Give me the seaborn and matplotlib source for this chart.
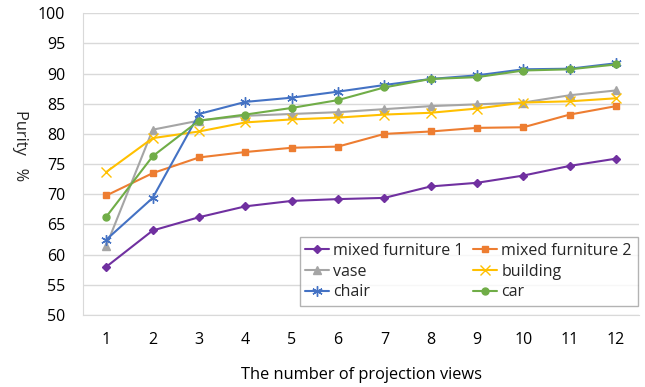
import pandas as pd
import matplotlib.pyplot as plt
import seaborn as sns

views = list(range(1, 13))

mixed_furniture_1 = [58.0, 64.0, 66.2, 68.0, 68.9, 69.2, 69.4, 71.3, 71.9, 73.1, 74.7, 75.9]
mixed_furniture_2 = [69.8, 73.5, 76.1, 77.0, 77.7, 77.9, 80.0, 80.4, 81.0, 81.1, 83.2, 84.6]
vase = [61.5, 80.7, 82.2, 83.0, 83.3, 83.6, 84.1, 84.6, 84.9, 85.2, 86.4, 87.2]
building = [73.7, 79.3, 80.4, 81.9, 82.4, 82.7, 83.2, 83.5, 84.2, 85.2, 85.4, 85.9]
chair = [62.5, 69.4, 83.3, 85.3, 86.0, 87.0, 88.1, 89.1, 89.7, 90.7, 90.8, 91.7]
car = [66.3, 76.3, 82.2, 83.2, 84.3, 85.6, 87.7, 89.1, 89.4, 90.5, 90.7, 91.5]

series_names = ["mixed furniture 1", "mixed furniture 2", "vase", "building", "chair", "car"]
y_ticks = list(range(50, 101, 5))


def build_frame():
    '''Long-form table of all series.'''
    values = [mixed_furniture_1, mixed_furniture_2, vase, building, chair, car]
    rows = []
    for name, vals in zip(series_names, values):
        for v, p in zip(views, vals):
            rows.append({"views": v, "purity": p, "series": name})
    return pd.DataFrame(rows)


def main():
    sns.set_style("white")
    plt.rcParams['font.family'] = ['Open Sans', 'DejaVu Sans']

    df = build_frame()
    colors = ["#7030A0", "#ED7D31", "#A5A5A5", "#FFC000", "#4472C4", "#70AD47"]
    markers = ["D", "s", "^", "x", (6, 2, 0), "o"]
    sizes = [4, 5, 5.5, 6.5, 7.5, 5]

    fig = plt.figure(figsize=(6.45, 3.87), dpi=100)
    ax = fig.add_axes([0.129, 0.186, 0.862, 0.780])

    handles = {}
    for name, c, m, s in zip(series_names, colors, markers, sizes):
        sub = df[df["series"] == name]
        sns.lineplot(data=sub, x="views", y="purity", ax=ax, color=c, marker=m,
                     markersize=s, markeredgecolor=c, markeredgewidth=1.0,
                     linewidth=1.5, label=name, legend=False)
        handles[name] = ax.lines[-1]

    ax.set_xlim(0.5, 12.5)
    ax.set_ylim(50, 100)
    ax.set_xticks(views)
    ax.set_yticks(y_ticks)
    ax.tick_params(axis="y", length=0, labelsize=11.5, colors="#000000", pad=13)
    ax.tick_params(axis="x", length=0, labelsize=11.5, colors="#000000", pad=12)
    ax.grid(axis="y", color="#D9D9D9", linewidth=1)
    ax.set_axisbelow(True)
    for side in ["top", "right"]:
        ax.spines[side].set_visible(False)
    for side in ["left", "bottom"]:
        ax.spines[side].set_color("#D9D9D9")

    ax.set_xlabel("The number of projection views", fontsize=11.8, color="#000000", labelpad=14)
    ax.set_ylabel("")
    fig.text(0.031, 0.625, "Purity   %", rotation=270, fontsize=11.8, ha="center", va="center")

    # legend fills row-wise like the original
    order = ["mixed furniture 1", "vase", "chair", "mixed furniture 2", "building", "car"]
    leg = ax.legend([handles[n] for n in order], order, ncol=2, loc="lower right",
                    bbox_to_anchor=(0.997, 0.03), fontsize=11.5, frameon=True,
                    fancybox=False, edgecolor="#A0A0A0", handlelength=1.5,
                    handletextpad=0.25, columnspacing=0.6, labelspacing=0.3,
                    borderpad=0.35, borderaxespad=0)
    leg.get_frame().set_linewidth(1.0)

    fig.savefig("out.png", dpi=100)


if __name__ == "__main__":
    main()
